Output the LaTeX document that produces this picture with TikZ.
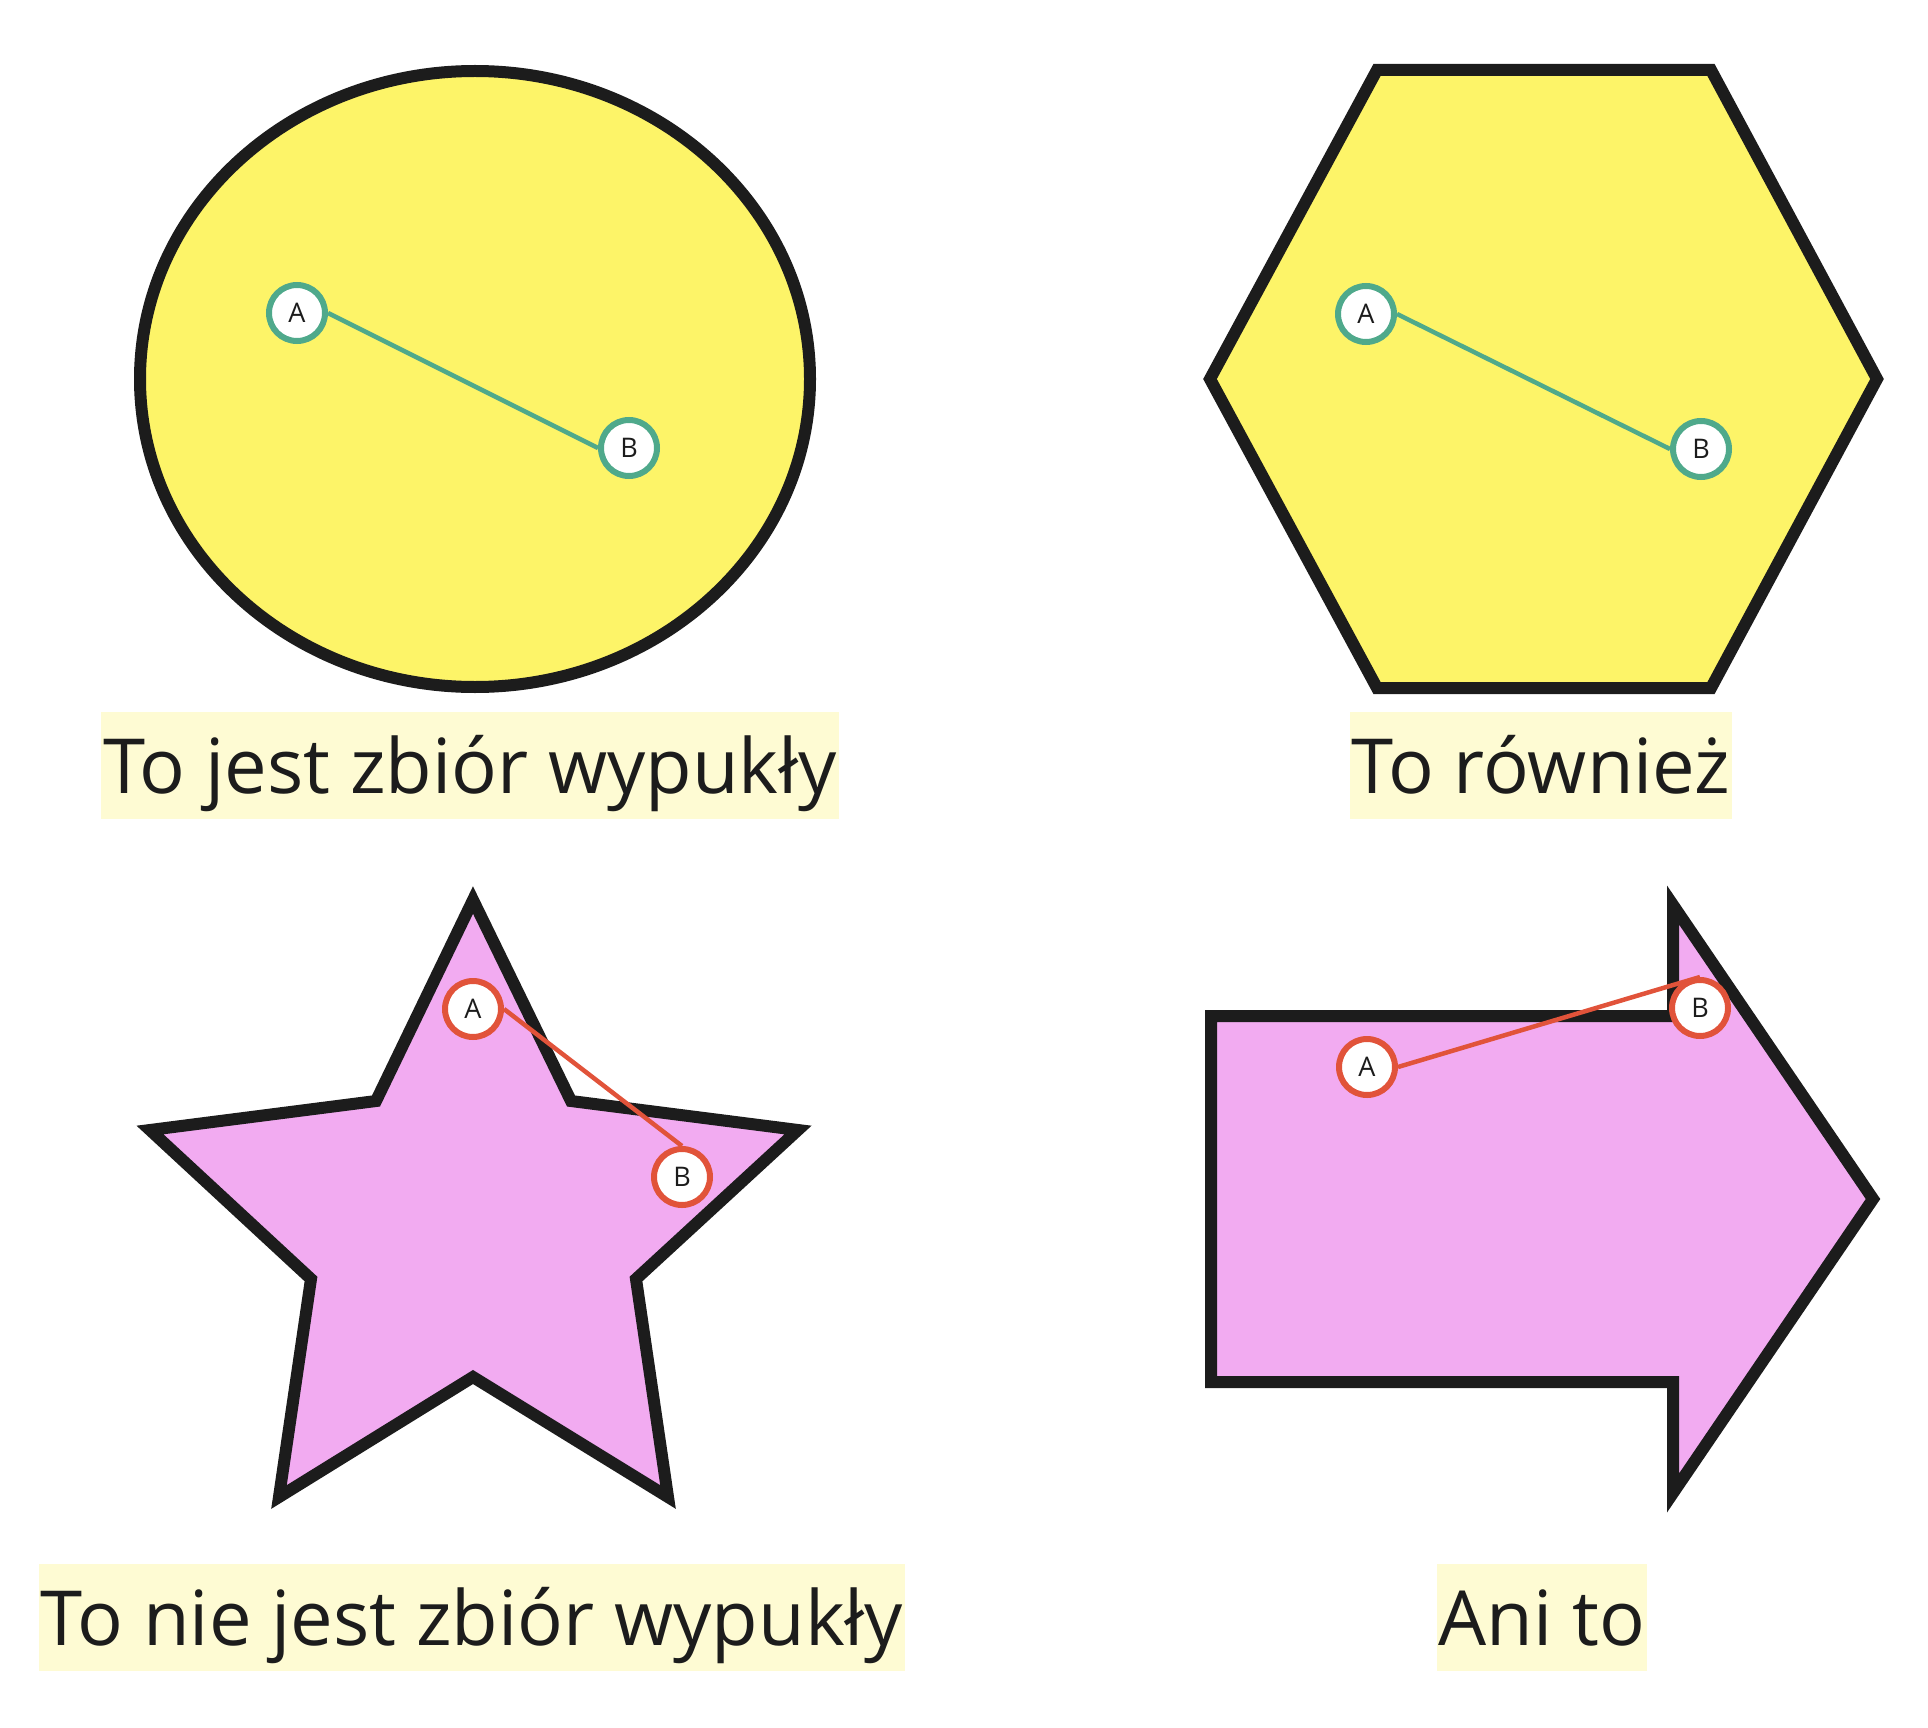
\documentclass[tikz,border=0pt]{standalone}
\usepackage{fontspec}
\setmainfont{Open Sans}
\definecolor{setyellow}{HTML}{FDF468}
\definecolor{setpink}{HTML}{F2ABF1}
\definecolor{captionbg}{HTML}{FEFBD3}
\definecolor{goodline}{HTML}{4FA98B}
\definecolor{badline}{HTML}{E1533A}
\definecolor{ink}{HTML}{1C1C1C}
\begin{document}
\begin{tikzpicture}[x=1pt, y=-1pt,
    setshape/.style={draw=ink, line width=12pt, line join=miter},
    pointnode/.style={circle, draw=#1, line width=6pt, fill=white, minimum size=56pt, inner sep=0pt, text=ink, font=\fontsize{27}{30}\selectfont},
    segment/.style={draw=#1, line width=4.5pt},
    caption/.style={fill=captionbg, text=ink, inner xsep=2pt, inner ysep=0pt, minimum height=107pt, text height=80pt, text depth=23pt, font=\fontsize{76}{90}\selectfont}]
    \path[use as bounding box] (0,0) rectangle (1928,1728);

    % Ellipse (convex)
    \draw[setshape, fill=setyellow] (475,379) ellipse [x radius=335pt, y radius=308pt];
    \node[pointnode=goodline] (ellA) at (297,313) {A};
    \node[pointnode=goodline] (ellB) at (629,448) {B};
    \draw[segment=goodline] (ellA.east) -- (ellB.west);
    \node[caption] (ellcap) at (470,765) {To jest zbiór wypukły};

    % Hexagon (convex)
    \draw[setshape, fill=setyellow] (1377,70) -- (1711,70) -- (1877,379) -- (1711,688) -- (1377,688) -- (1210,379) -- cycle;
    \node[pointnode=goodline] (hexA) at (1366,314) {A};
    \node[pointnode=goodline] (hexB) at (1701,449) {B};
    \draw[segment=goodline] (hexA.east) -- (hexB.west);
    \node[caption] (hexcap) at (1541,765) {To również};

    % Star (not convex)
    \draw[setshape, fill=setpink] (473,900) -- (571,1101) -- (798,1130) -- (636,1279) -- (668,1497) -- (473,1377) -- (279,1497) -- (311,1279) -- (150,1130) -- (376,1101) -- cycle;
    \node[pointnode=badline] (starA) at (473,1009) {A};
    \node[pointnode=badline] (starB) at (682,1177) {B};
    \draw[segment=badline] (starA.east) -- (starB.north);
    \node[caption] (starcap) at (472,1617) {To nie jest zbiór wypukły};

    % Arrow (not convex)
    \draw[setshape, fill=setpink] (1211,1016) -- (1673,1016) -- (1673,905) -- (1873,1199) -- (1673,1493) -- (1673,1382) -- (1211,1382) -- cycle;
    \node[pointnode=badline] (arrA) at (1367,1067) {A};
    \node[pointnode=badline] (arrB) at (1700,1008) {B};
    \draw[segment=badline] (arrA.east) -- (arrB.north);
    \node[caption] (arrcap) at (1542,1617) {Ani to};
\end{tikzpicture}
\end{document}
